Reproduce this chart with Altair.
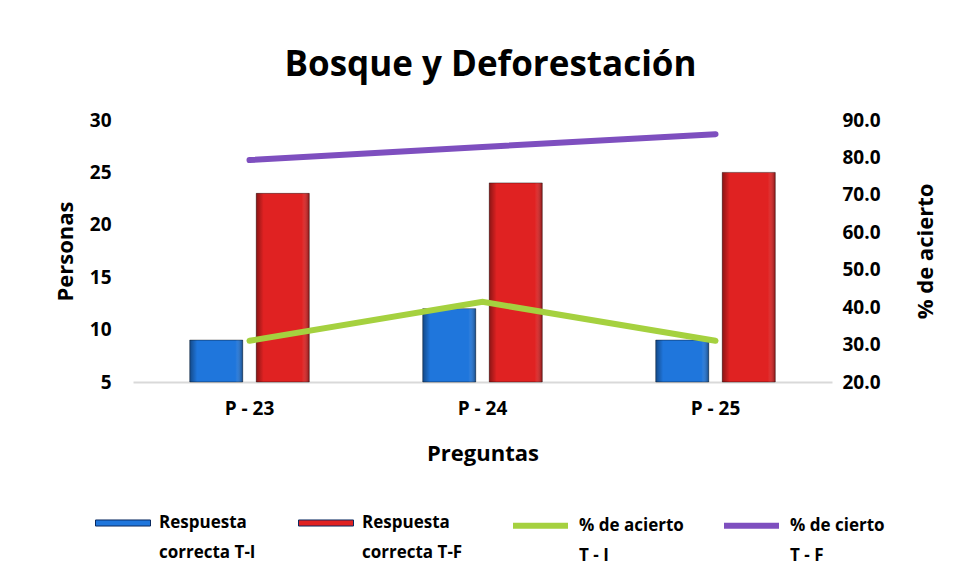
import altair as alt
import pandas as pd

preguntas = ["P - 23", "P - 24", "P - 25"]
correcta_ti = [9, 12, 9]
correcta_tf = [23, 24, 25]
pct_acierto_ti = [31.0, 41.4, 31.0]
pct_cierto_tf = [79.3, 82.8, 86.2]

bar_series = ["Respuesta|correcta T-I", "Respuesta|correcta T-F"]
line_series = ["% de acierto|T - I", "% de cierto|T - F"]
bar_colors = ["#1f76dc", "#e02222"]
line_colors = ["#a5d13f", "#7e4fbf"]

left_ticks = [5, 10, 15, 20, 25, 30]
right_ticks = [20, 30, 40, 50, 60, 70, 80, 90]

bars_df = pd.DataFrame({
    "pregunta": preguntas * 2,
    "serie": [bar_series[0]] * 3 + [bar_series[1]] * 3,
    "valor": correcta_ti + correcta_tf,
})
lines_df = pd.DataFrame({
    "pregunta": preguntas * 2,
    "serie": [line_series[0]] * 3 + [line_series[1]] * 3,
    "pct": pct_acierto_ti + pct_cierto_tf,
})

FONT = "Open Sans"
rect_path = "M-1,-0.11L1,-0.11L1,0.11L-1,0.11Z"
TICK_FS = 19
TITLE_FS = 22
LEG_FS = 17

x_enc = alt.X(
    "pregunta:N", sort=preguntas,
    scale=alt.Scale(paddingInner=0, paddingOuter=0),
    axis=alt.Axis(title="Preguntas", labelAngle=0, ticks=False, domain=True,
                  domainColor="#d9d9d9", domainWidth=2, labelPadding=17,
                  labelFontSize=TICK_FS, labelFontWeight="bold", labelFont=FONT,
                  titleFontSize=TITLE_FS, titleFontWeight="bold", titleFont=FONT,
                  titlePadding=25, grid=False),
)
xoff_enc = alt.XOffset("serie:N", sort=bar_series,
                       scale=alt.Scale(paddingInner=0.203, paddingOuter=0.853))
y_left = alt.Y("valor:Q", scale=alt.Scale(domain=[5, 30], zero=False, nice=False),
               axis=alt.Axis(orient="left", values=left_ticks, title="Personas",
                             ticks=False, domain=False, grid=False, labelPadding=22,
                             labelFontSize=TICK_FS, labelFontWeight="bold", labelFont=FONT,
                             titleFontSize=TITLE_FS, titleFontWeight="bold", titleFont=FONT,
                             titleX=-68, titleY=131, titleAngle=270,
                             titleBaseline="middle", titleAlign="center"))

bars = alt.Chart(bars_df).mark_bar(stroke="#000000", strokeOpacity=0.4, strokeWidth=1).encode(
    x=x_enc,
    xOffset=xoff_enc,
    y=y_left,
    y2=alt.datum(5),
    fill=alt.Fill("serie:N", sort=bar_series,
                  scale=alt.Scale(domain=bar_series, range=bar_colors),
                  legend=alt.Legend(orient="none", legendX=-38, legendY=375,
                                    direction="horizontal", title=None,
                                    symbolType=rect_path, symbolSize=3025,
                                    symbolStrokeColor="#0a2a60", symbolStrokeWidth=1,
                                    labelExpr="split(datum.label, '|')",
                                    labelFontSize=LEG_FS, labelFontWeight="bold",
                                    labelFont=FONT, labelOffset=8, columnPadding=40,
                                    labelLimit=220)),
)

shade = alt.LinearGradient(
    gradient="linear", x1=0, x2=1, y1=0, y2=0,
    stops=[
        alt.GradientStop(color="rgba(0,0,0,0.38)", offset=0),
        alt.GradientStop(color="rgba(0,0,0,0.0)", offset=0.14),
        alt.GradientStop(color="rgba(255,255,255,0.0)", offset=0.86),
        alt.GradientStop(color="rgba(0,0,0,0.38)", offset=1),
    ],
)
bevel = alt.Chart(bars_df).mark_bar(color=shade).encode(
    x=x_enc,
    xOffset=xoff_enc,
    y=y_left,
    y2=alt.datum(5),
)

lines = alt.Chart(lines_df).mark_line(strokeWidth=6, strokeCap="round").encode(
    x=alt.X("pregunta:N", sort=preguntas),
    y=alt.Y("pct:Q", scale=alt.Scale(domain=[20, 90], zero=False, nice=False),
            axis=alt.Axis(orient="right", values=right_ticks, format=".1f",
                          title="% de acierto", ticks=False,
                          domain=False, grid=False, labelPadding=10,
                          labelFontSize=TICK_FS, labelFontWeight="bold", labelFont=FONT,
                          titleFontSize=TITLE_FS, titleFontWeight="bold", titleFont=FONT,
                          titleX=93, titleY=131, titleAngle=270,
                          titleBaseline="middle", titleAlign="center")),
    stroke=alt.Stroke("serie:N", sort=line_series,
                      scale=alt.Scale(domain=line_series, range=line_colors),
                      legend=alt.Legend(orient="none", legendX=377, legendY=375,
                                        direction="horizontal", title=None,
                                        symbolType="stroke", symbolSize=3025,
                                        symbolStrokeWidth=6,
                                        labelExpr="split(datum.label, '|')",
                                        labelFontSize=LEG_FS, labelFontWeight="bold",
                                        labelFont=FONT, labelOffset=8, columnPadding=28,
                                        labelLimit=220)),
)

chart = alt.layer(alt.layer(bars, bevel), lines).resolve_scale(
    y="independent"
).properties(
    width=699, height=262,
    title=alt.TitleParams("Bosque y Deforestación", fontSize=35, fontWeight="bold",
                          font=FONT, anchor="middle", offset=28, dx=8, color="#000000"),
    autosize=alt.AutoSizeParams(type="none"),
    padding={"left": 125, "top": 112, "right": 110, "bottom": 190},
).configure(
    style={"guide-label": {"lineHeight": 30}}
).configure_view(strokeWidth=0).configure_axis(
    labelColor="#000000", titleColor="#000000"
).configure_legend(labelColor="#000000")

chart.save("out.html", embed_options={"renderer": "svg", "actions": False})
